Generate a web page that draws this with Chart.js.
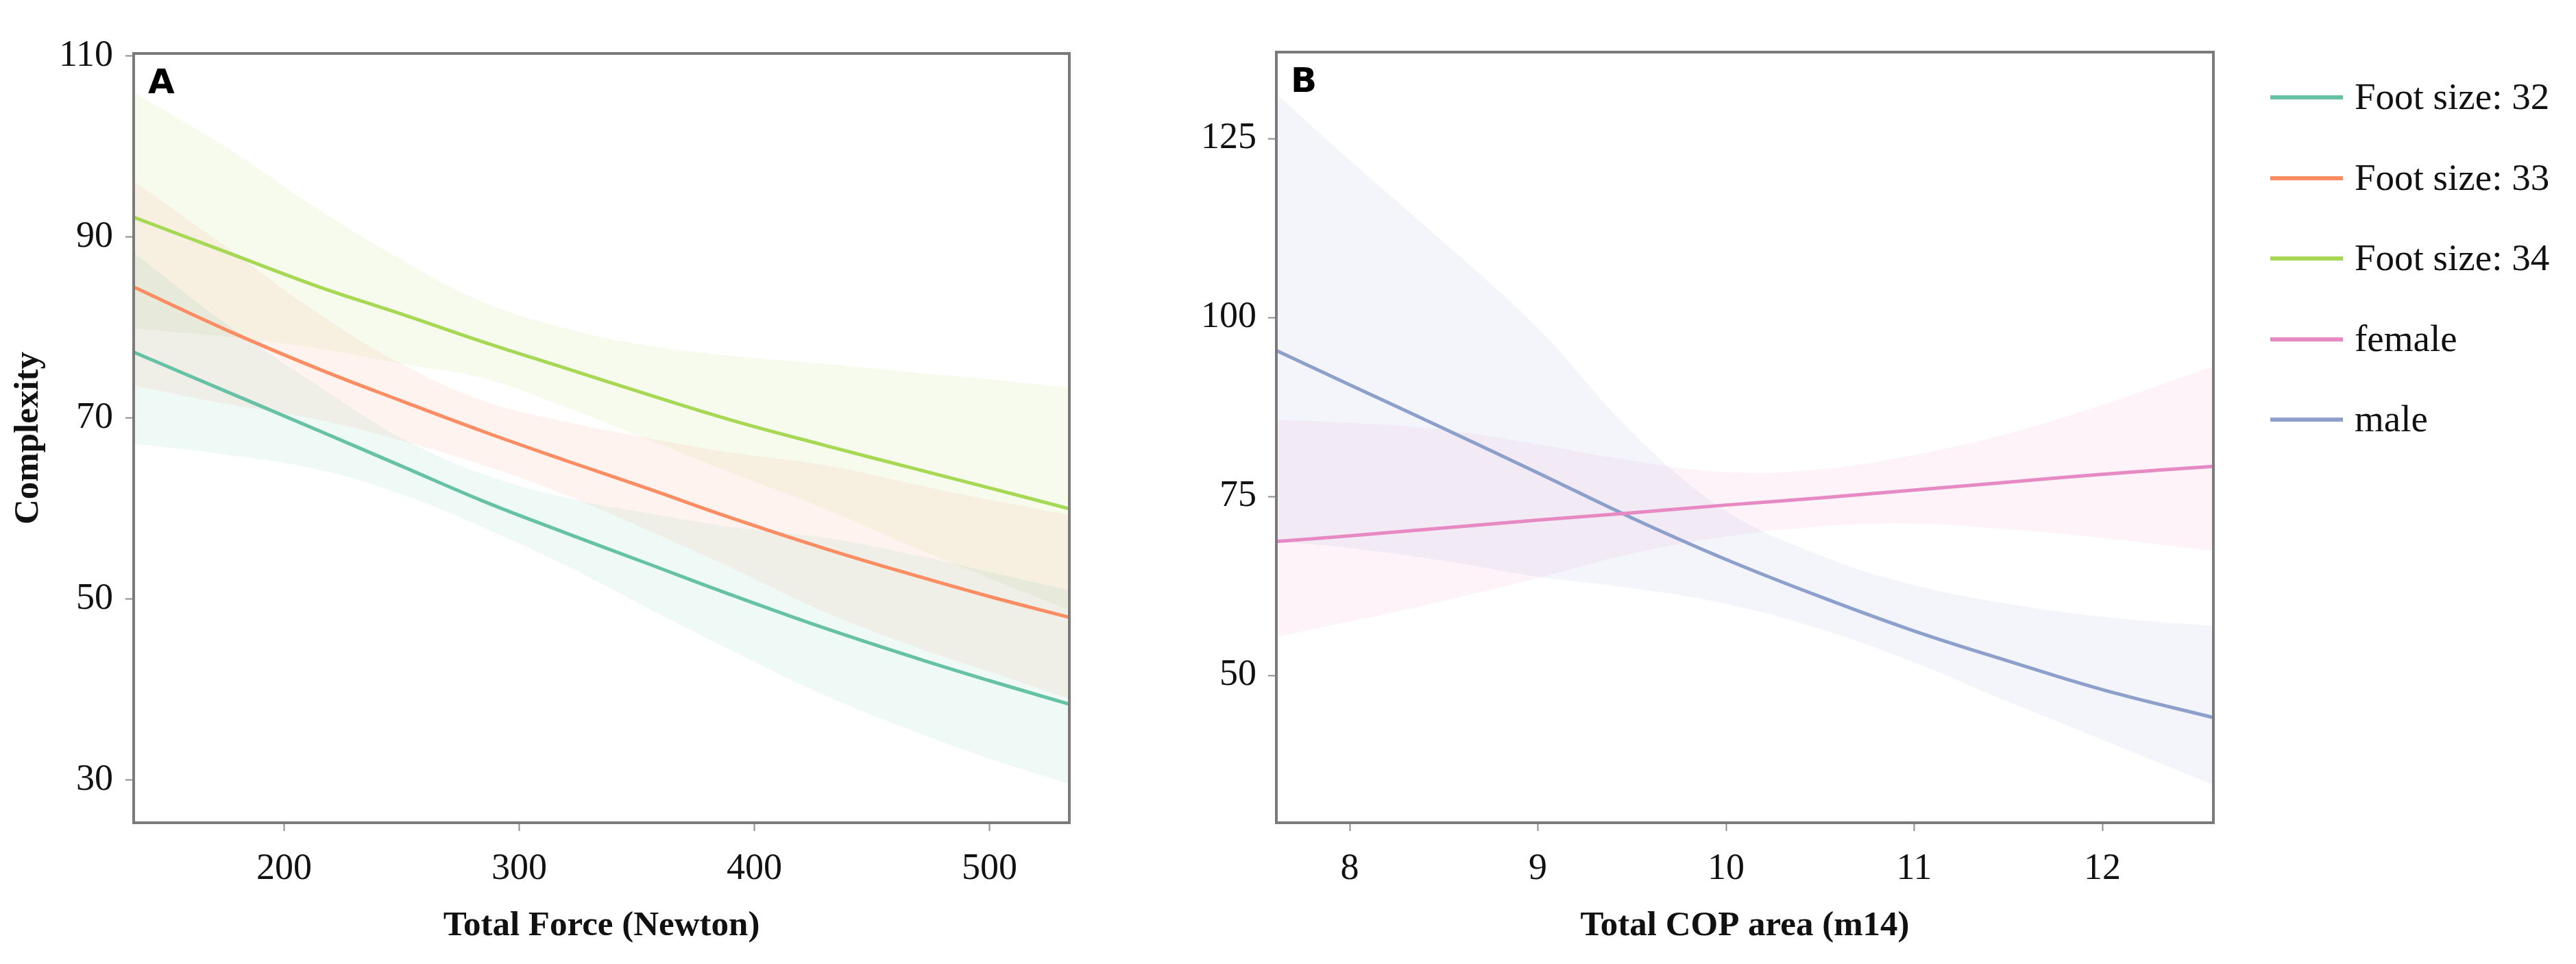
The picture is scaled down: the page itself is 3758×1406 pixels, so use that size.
<!DOCTYPE html>
<html>
<head>
<meta charset="utf-8">
<title>Complexity vs force and COP area</title>
<script src="https://cdn.jsdelivr.net/npm/chart.js@4.4.1/dist/chart.umd.min.js"></script>
<style>
  html, body { margin: 0; padding: 0; background: #fff; }
  body { width: 3758px; height: 1406px; position: relative; overflow: hidden; font-family: "Liberation Serif", serif; }
  #chartA { position: absolute; left: 0; top: 0; }
  #chartB { position: absolute; left: 1600px; top: 0; }
  #legend { position: absolute; left: 3312px; top: 0; }
  .legend-item { position: absolute; left: 0; height: 0; white-space: nowrap; }
  .legend-item .swatch { position: absolute; left: 0; top: -3px; width: 106px; height: 6px; }
  .legend-item .label { position: absolute; left: 123px; top: -34px; font-size: 55px; line-height: 66px; color: #111; }
</style>
</head>
<body>
<canvas id="chartA" width="1600" height="1406"></canvas>
<canvas id="chartB" width="1700" height="1406"></canvas>
<div id="legend"></div>
<script>
// Panel A: complexity against total force, one fit per foot size
const forceX = [136, 175, 215, 250, 285, 320, 355, 390, 430, 470, 500, 534];
const forceTicks = [200, 300, 400, 500];
const complexityTicksA = [30, 50, 70, 90, 110];

const foot32Fit   = [77.3, 73.0, 68.6, 64.7, 60.8, 57.3, 53.9, 50.5, 46.8, 43.4, 41.0, 38.4];
const foot32Upper = [88.3, 80.5, 73.5, 67.8, 63.8, 61.2, 59.5, 58.0, 56.8, 54.8, 53.0, 51.0];
const foot32Lower = [67.2, 66.0, 64.3, 61.6, 57.9, 53.7, 49.0, 44.4, 39.4, 35.2, 32.4, 29.6];

const foot33Fit   = [84.5, 79.8, 75.4, 71.9, 68.5, 65.3, 62.2, 59.0, 55.6, 52.5, 50.3, 48.0];
const foot33Upper = [96.2, 89.0, 81.5, 76.0, 71.9, 69.6, 67.8, 66.2, 64.8, 62.6, 61.0, 59.3];
const foot33Lower = [73.6, 71.6, 69.8, 67.5, 64.8, 61.5, 57.6, 53.5, 48.6, 44.6, 42.0, 39.0];

const foot34Fit   = [92.2, 88.4, 84.5, 81.5, 78.4, 75.5, 72.6, 69.8, 67.0, 64.3, 62.3, 60.0];
const foot34Upper = [106.0, 100.0, 93.0, 87.5, 82.8, 79.9, 78.0, 76.9, 76.0, 75.0, 74.3, 73.4];
const foot34Lower = [79.9, 79.0, 77.7, 76.0, 74.4, 71.2, 67.6, 64.0, 60.0, 55.5, 52.3, 48.8];

// Panel B: complexity against total COP area, one fit per sex
const copX = [7.61, 8, 8.5, 9, 9.5, 10, 10.5, 11, 11.5, 12, 12.59];
const copTicks = [8, 9, 10, 11, 12];
const complexityTicksB = [50, 75, 100, 125];

const femaleFit   = [68.7, 69.5, 70.6, 71.7, 72.7, 73.8, 74.8, 75.9, 77.0, 78.1, 79.2];
const femaleUpper = [85.7, 85.3, 84.3, 82.3, 80.0, 78.4, 78.8, 80.8, 83.8, 87.8, 93.2];
const femaleLower = [55.4, 57.5, 60.4, 63.6, 67.0, 69.4, 70.8, 71.2, 70.4, 69.2, 67.4];

const maleFit   = [95.4, 90.6, 84.5, 78.3, 72.0, 66.2, 61.0, 56.2, 52.0, 48.0, 44.1];
const maleUpper = [131.2, 122.0, 110.5, 98.5, 84.0, 73.0, 66.8, 62.6, 60.0, 58.2, 56.9];
const maleLower = [68.7, 67.8, 66.0, 63.8, 62.2, 60.0, 56.5, 51.8, 46.3, 41.0, 34.7];

const seriesNames = ["Foot size: 32", "Foot size: 33", "Foot size: 34", "female", "male"];
const seriesColors = ["#66c2a5", "#fc8d62", "#a6d854", "#e78ac3", "#8da0cb"];

Chart.defaults.font.family = "Liberation Serif";
Chart.defaults.color = "#111";

const toPoints = (xs, ys) => xs.map((x, i) => ({ x: x, y: ys[i] }));

const hexToRgba = (hex, alpha) => {
  const n = parseInt(hex.slice(1), 16);
  return `rgba(${(n >> 16) & 255}, ${(n >> 8) & 255}, ${n & 255}, ${alpha})`;
};

const fitLine = (label, color, xs, ys) => ({
  label: label,
  data: toPoints(xs, ys),
  borderColor: color,
  borderWidth: 5,
  pointRadius: 0,
  fill: false,
  tension: 0.4,
});

// upper edge fills down to the lower edge that follows it
const band = (color, xs, upper, lower) => [
  {
    data: toPoints(xs, upper),
    borderWidth: 0,
    pointRadius: 0,
    fill: "+1",
    backgroundColor: hexToRgba(color, 0.1),
    tension: 0.4,
  },
  {
    data: toPoints(xs, lower),
    borderWidth: 0,
    pointRadius: 0,
    fill: false,
    tension: 0.4,
  },
];

const panelFrame = {
  id: "panelFrame",
  afterDatasetsDraw(chart, args, opts) {
    const { ctx, chartArea: a } = chart;
    ctx.save();
    ctx.strokeStyle = "#7a7a7a";
    ctx.lineWidth = 4;
    ctx.strokeRect(a.left, a.top, a.right - a.left, a.bottom - a.top);
    ctx.fillStyle = "#000";
    ctx.font = 'bold 50px "DejaVu Sans"';
    ctx.textBaseline = "alphabetic";
    ctx.fillText(opts.letter, a.left + 21, a.top + 58);
    ctx.restore();
  },
};

const tickFont = { family: "Liberation Serif", size: 54 };
const titleFont = { family: "Liberation Serif", size: 51, weight: "bold" };
const tickGrid = {
  drawOnChartArea: false,
  drawTicks: true,
  tickLength: 12,
  tickWidth: 2,
  tickColor: "#8c8c8c",
};

const xAxis = (min, max, tickValues, title) => ({
  type: "linear",
  min: min,
  max: max,
  afterBuildTicks: (scale) => {
    scale.ticks = tickValues.map((v) => ({ value: v }));
  },
  afterFit: (scale) => {
    scale.height = 206;
  },
  grid: tickGrid,
  border: { display: false },
  ticks: { padding: 23, font: tickFont, color: "#111", autoSkip: false, maxRotation: 0 },
  title: { display: true, text: title, font: titleFont, color: "#111", padding: { top: 0, bottom: 25 } },
});

const yAxis = (min, max, tickValues, width, padding, title) => ({
  type: "linear",
  min: min,
  max: max,
  afterBuildTicks: (scale) => {
    scale.ticks = tickValues.map((v) => ({ value: v }));
  },
  afterFit: (scale) => {
    scale.width = width;
  },
  grid: tickGrid,
  border: { display: false },
  ticks: { padding: padding, font: tickFont, color: "#111", autoSkip: false },
  title: title
    ? { display: true, text: title, font: titleFont, color: "#111", padding: { top: 11, bottom: 0 } }
    : { display: false },
});

const baseOptions = {
  responsive: false,
  maintainAspectRatio: false,
  devicePixelRatio: 1,
  animation: false,
  events: [],
  plugins: { legend: { display: false }, tooltip: { enabled: false } },
};

new Chart(document.getElementById("chartA"), {
  type: "line",
  data: {
    datasets: [
      fitLine(seriesNames[0], seriesColors[0], forceX, foot32Fit),
      fitLine(seriesNames[1], seriesColors[1], forceX, foot33Fit),
      fitLine(seriesNames[2], seriesColors[2], forceX, foot34Fit),
      ...band(seriesColors[0], forceX, foot32Upper, foot32Lower),
      ...band(seriesColors[1], forceX, foot33Upper, foot33Lower),
      ...band(seriesColors[2], forceX, foot34Upper, foot34Lower),
    ],
  },
  options: {
    ...baseOptions,
    layout: { padding: { top: 78, right: 40, left: 0, bottom: 0 } },
    scales: {
      x: xAxis(136, 534, forceTicks, "Total Force (Newton)"),
      y: yAxis(25.3, 110.3, complexityTicksA, 195, 18, "Complexity"),
    },
    plugins: { ...baseOptions.plugins, panelFrame: { letter: "A" } },
  },
  plugins: [panelFrame],
});

new Chart(document.getElementById("chartB"), {
  type: "line",
  data: {
    datasets: [
      fitLine(seriesNames[3], seriesColors[3], copX, femaleFit),
      fitLine(seriesNames[4], seriesColors[4], copX, maleFit),
      ...band(seriesColors[3], copX, femaleUpper, femaleLower),
      ...band(seriesColors[4], copX, maleUpper, maleLower),
    ],
  },
  options: {
    ...baseOptions,
    layout: { padding: { top: 76, right: 71, left: 0, bottom: 0 } },
    scales: {
      x: xAxis(7.61, 12.59, copTicks, "Total COP area (m14)"),
      y: yAxis(29.4, 137.1, complexityTicksB, 262, 17, null),
    },
    plugins: { ...baseOptions.plugins, panelFrame: { letter: "B" } },
  },
  plugins: [panelFrame],
});

// shared legend for both panels
const legend = document.getElementById("legend");
seriesNames.forEach((name, i) => {
  const item = document.createElement("div");
  item.className = "legend-item";
  item.style.top = `${142 + i * 117.5}px`;
  item.innerHTML = `
    <div class="swatch" style="background:${seriesColors[i]}"></div>
    <div class="label">${name}</div>
  `;
  legend.appendChild(item);
});
</script>
</body>
</html>
